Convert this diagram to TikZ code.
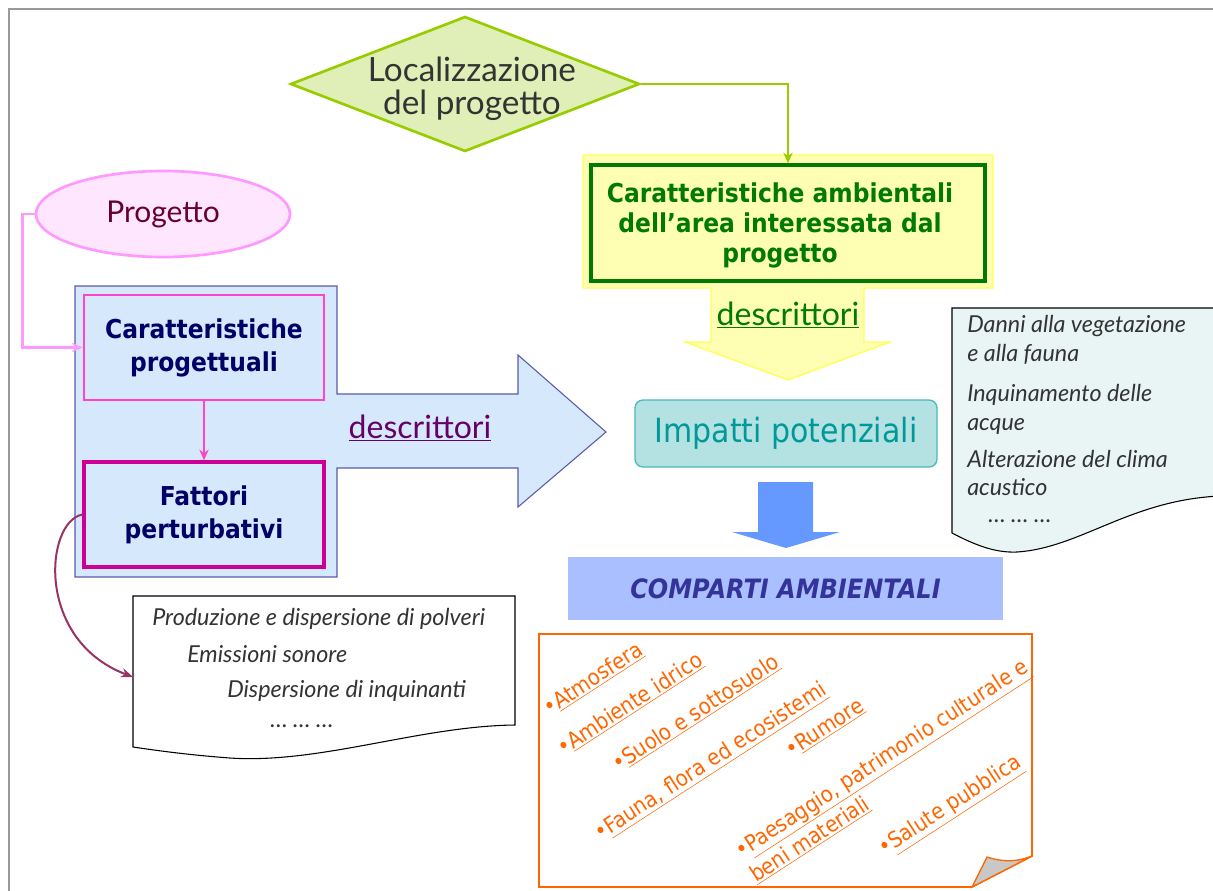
\documentclass[tikz,border=0pt]{standalone}
\usepackage{fontspec}
\setmainfont{DejaVu Sans}
\newfontfamily\tah[FakeStretch=0.9]{DejaVu Sans}
\newfontfamily\hand{Lato}
\usetikzlibrary{shapes.geometric,arrows.meta}
\definecolor{pageline}{HTML}{999999}
\definecolor{limeline}{HTML}{99CC00}
\definecolor{limefill}{HTML}{E0EFB7}
\definecolor{yelfill}{HTML}{FFFFB3}
\definecolor{yelline}{HTML}{FFFF55}
\definecolor{dgreen}{HTML}{007A00}
\definecolor{pinkline}{HTML}{FF99FF}
\definecolor{pinkfill}{HTML}{FFE6FF}
\definecolor{maroon}{HTML}{660033}
\definecolor{bluefill}{HTML}{D5E8FC}
\definecolor{blueline}{HTML}{5A5AAA}
\definecolor{magA}{HTML}{FF44CC}
\definecolor{magB}{HTML}{CC0099}
\definecolor{navy}{HTML}{000066}
\definecolor{purp}{HTML}{660066}
\definecolor{curvecol}{HTML}{993366}
\definecolor{tealfill}{HTML}{B4E1E1}
\definecolor{tealline}{HTML}{4DB8B8}
\definecolor{tealtext}{HTML}{009999}
\definecolor{arrowblue}{HTML}{6699FF}
\definecolor{compfill}{HTML}{AABFFF}
\definecolor{comptext}{HTML}{333399}
\definecolor{orangec}{HTML}{FF6600}
\definecolor{docfill}{HTML}{E9F5F5}
\definecolor{handtext}{HTML}{333333}
\definecolor{foldgray}{HTML}{C8C8C8}
\begin{document}
\begin{tikzpicture}[x=0.75pt,y=-0.75pt,
  boldbox/.style={rectangle,fill=bluefill,minimum width=240*0.75pt,minimum height=105*0.75pt,
    inner sep=0pt,align=center,text=navy,font=\tah\bfseries\fontsize{19.5}{24.75}\selectfont},
  listtext/.style={anchor=base west,inner sep=0pt,text=handtext,font=\hand\itshape\fontsize{17.5}{20}\selectfont},
  orangeitem/.style={anchor=base west,inner sep=0pt,rotate=33,text=orangec,font=\tah\fontsize{16.5}{20}\selectfont},
  conn/.style={line width=2pt,-{Stealth[length=8pt,width=7pt]}}]
\useasboundingbox (0,0) rectangle (1213,890);
% page border
\draw[pageline,line width=1.5pt] (1216,9) -- (9,9) -- (9,893);

% diamond
\node[diamond,draw=limeline,fill=limefill,line width=2pt,aspect=2.58,
  minimum width=349*0.75pt,minimum height=135*0.75pt,inner sep=0pt] (loc) at (465,84) {};
\node[align=center,text=handtext,font=\hand\fontsize{25}{25}\selectfont] (loctext) at (472,89)
  {Localizzazione\\del progetto};

% yellow block arrow
\draw[yelline,fill=yelfill,line width=1pt] (583,155) -- (993,155) -- (993,288) -- (864,288) -- (864,342)
  -- (890,342) -- (788,380) -- (685,342) -- (711,342) -- (711,288) -- (583,288) -- cycle;
\node[rectangle,draw=dgreen,line width=2.5pt,fill=yelfill,minimum width=394*0.75pt,
  minimum height=116*0.75pt,inner sep=0pt] (amb) at (788,223) {};
\node[align=center,text=dgreen,font=\tah\bfseries\fontsize{19.5}{22.5}\selectfont] (ambtext) at (780,225)
  {Caratteristiche ambientali\\dell’area interessata dal\\progetto};
\node[text=dgreen,font=\hand\fontsize{24}{26}\selectfont,inner sep=0pt,anchor=base] (descB) at (788,325)
  {\underline{descrittori}};
\draw[conn,limeline] (loc.east) -| (amb.north);

% Progetto ellipse
\node[ellipse,draw=pinkline,fill=pinkfill,line width=2pt,minimum width=254*0.75pt,
  minimum height=86*0.75pt,text=maroon,font=\hand\fontsize{22.5}{24}\selectfont] (prog) at (163,214) {Progetto};

% blue block arrow
\draw[blueline,fill=bluefill,line width=0.8pt] (75,286) -- (337,286) -- (337,394) -- (518,394) -- (518,355)
  -- (606,432) -- (518,507) -- (518,468) -- (337,468) -- (337,577) -- (75,577) -- cycle;
\node[boldbox,draw=magA,line width=2pt] (box1) at (204,347.5) {Caratteristiche\\progettuali};
\node[boldbox,draw=magB,line width=2.5pt] (box2) at (204,514.5) {Fattori\\perturbativi};
\node[text=purp,font=\hand\fontsize{24}{26}\selectfont,inner sep=0pt,anchor=base] (descA) at (420,438)
  {\underline{descrittori}};
\draw[conn,pinkline] (prog.west) -- ++(-12,0) |- (box1.west);
\draw[conn,magA] (box1.south) -- (box2.north);

% left document
\draw[black,fill=white,line width=0.8pt] (133,596) -- (515,596) -- (515,725)
  .. controls (420,726) and (320,764) .. (230,758) .. controls (190,755) and (160,751) .. (133,747) -- cycle;
\coordinate (docA) at (133,677);
\node[listtext] (la1) at (152,625) {Produzione e dispersione di polveri};
\node[listtext] (la2) at (187,662) {Emissioni sonore};
\node[listtext] (la3) at (227,697) {Dispersione di inquinanti};
\node[listtext] (la4) at (270,727) {… … …};
\draw[curvecol,line width=1.5pt,-{Stealth[length=9pt,width=7pt]}] (box2.west) .. controls (45,522) and (35,640) .. (docA);

% right document
\draw[black,fill=docfill,line width=0.8pt] (1220,308) -- (952,308) -- (952,533)
  .. controls (975,545) and (995,553) .. (1017,552) .. controls (1080,548) and (1130,500) .. (1220,496);
\node[listtext] (lb1) at (967,332) {Danni alla vegetazione};
\node[listtext] (lb2) at (967,361) {e alla fauna};
\node[listtext] (lb3) at (967,401) {Inquinamento delle};
\node[listtext] (lb4) at (967,430) {acque};
\node[listtext] (lb5) at (967,467) {Alterazione del clima};
\node[listtext] (lb6) at (967,495) {acustico};
\node[listtext] (lb7) at (988,522) {… … …};

% Impatti potenziali
\node[rectangle,rounded corners=6pt,draw=tealline,fill=tealfill,line width=1pt,minimum width=302*0.75pt,
  minimum height=67*0.75pt,text=tealtext,font=\tah\fontsize{25}{30}\selectfont] (imp) at (786,433.5)
  {Impatti potenziali};

% blue down arrow
\fill[arrowblue] (758,482) -- (813,482) -- (813,532) -- (840,532) -- (786,548) -- (732,532) -- (758,532) -- cycle;

% comparti
\node[rectangle,fill=compfill,minimum width=435*0.75pt,minimum height=63*0.75pt,
  text=comptext,font=\tah\bfseries\itshape\fontsize{20}{24}\selectfont] (comp) at (785.5,588.5)
  {COMPARTI AMBIENTALI};

% orange box
\draw[orangec,fill=white,line width=1.2pt] (539,634) -- (1032,634) -- (1032,856) -- (972,887) -- (539,887) -- cycle;
\draw[orangec,fill=foldgray,line width=1pt] (972,887) -- (987,857) .. controls (1005,863) and (1020,861) .. (1032,856) -- cycle;
\node[orangeitem] (o1) at (549,716) {•\underline{Atmosfera}};
\node[orangeitem] (o2) at (563,756) {•\underline{Ambiente idrico}};
\node[orangeitem] (o3) at (618,772) {•\underline{Suolo e sottosuolo}};
\node[orangeitem] (o4) at (600,841) {•\underline{Fauna, flora ed ecosistemi}};
\node[orangeitem] (o5) at (791,758) {•\underline{Rumore}};
\node[orangeitem] (o6) at (741,859) {•\underline{Paesaggio, patrimonio culturale e}};
\node[orangeitem] (o7) at (756,883) {\underline{beni materiali}};
\node[orangeitem] (o8) at (884,856) {•\underline{Salute pubblica}};
\end{tikzpicture}
\end{document}
